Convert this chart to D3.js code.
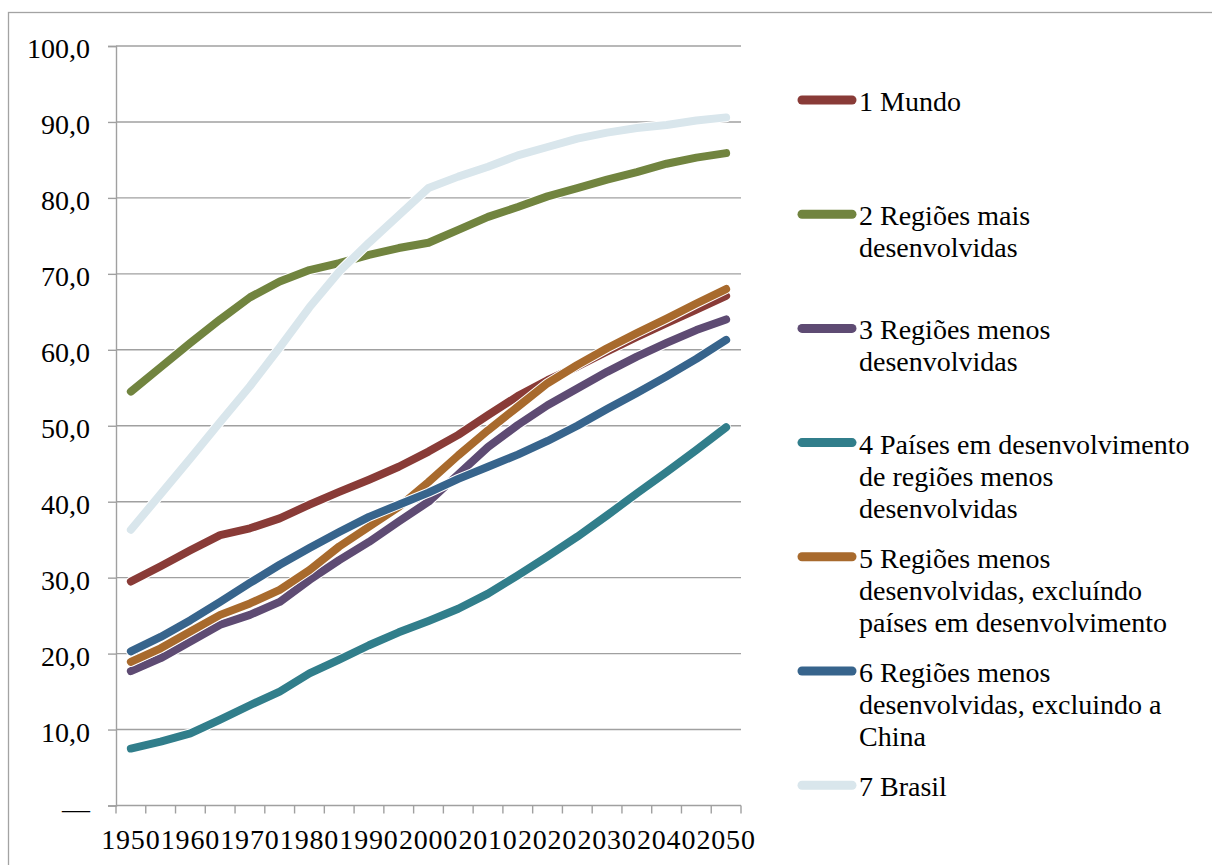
<!DOCTYPE html>
<html>
<head>
<meta charset="utf-8">
<script src="https://cdn.jsdelivr.net/npm/d3@7"></script>
<style>
  html, body { margin: 0; padding: 0; background: #fff; }
  svg { display: block; }
  text { font-family: "Liberation Serif", "Times New Roman", serif; fill: #000; }
</style>
</head>
<body>
<svg id="chart" width="1212" height="865"></svg>
<script>
// Years on the category axis (5-year steps)
const years = [1950, 1955, 1960, 1965, 1970, 1975, 1980, 1985, 1990, 1995, 2000,
               2005, 2010, 2015, 2020, 2025, 2030, 2035, 2040, 2045, 2050];
// Labels shown under the axis
const yearLabels = [1950, 1960, 1970, 1980, 1990, 2000, 2010, 2020, 2030, 2040, 2050];
// Value axis ticks
const yTicks = [0, 10, 20, 30, 40, 50, 60, 70, 80, 90, 100];

// Series (percent urban population)
const mundo          = [29.5, 31.5, 33.6, 35.6, 36.5, 37.8, 39.6, 41.3, 42.9, 44.6, 46.6, 48.8, 51.4, 53.9, 56.0, 57.8, 59.8, 61.7, 63.5, 65.3, 67.1];
const maisDesenv     = [54.5, 57.7, 60.9, 64.0, 66.9, 69.0, 70.5, 71.4, 72.5, 73.4, 74.1, 75.8, 77.5, 78.8, 80.2, 81.3, 82.4, 83.4, 84.5, 85.3, 85.9];
const menosDesenv    = [17.7, 19.4, 21.6, 23.8, 25.1, 26.8, 29.7, 32.3, 34.7, 37.4, 40.0, 43.6, 47.2, 50.1, 52.7, 54.9, 57.1, 59.1, 60.9, 62.6, 64.0];
const paisesEmDesenv = [7.5, 8.4, 9.5, 11.3, 13.2, 15.0, 17.4, 19.2, 21.1, 22.8, 24.3, 25.9, 27.9, 30.3, 32.8, 35.4, 38.2, 41.1, 43.9, 46.8, 49.8];
const menosExclPaises= [18.9, 20.7, 22.9, 25.1, 26.6, 28.4, 31.0, 34.1, 36.7, 39.3, 42.6, 46.1, 49.4, 52.5, 55.6, 58.0, 60.2, 62.2, 64.1, 66.1, 68.0];
const menosExclChina = [20.3, 22.2, 24.4, 26.8, 29.3, 31.7, 33.9, 36.0, 38.0, 39.6, 41.2, 43.0, 44.6, 46.2, 48.0, 50.0, 52.2, 54.3, 56.5, 58.8, 61.3];
const brasil         = [36.3, 41.0, 45.7, 50.5, 55.2, 60.3, 65.6, 70.3, 74.1, 77.7, 81.3, 82.8, 84.1, 85.6, 86.7, 87.8, 88.6, 89.2, 89.6, 90.2, 90.6];

const seriesNames = [
  ["1 Mundo"],
  ["2 Regiões mais", "desenvolvidas"],
  ["3 Regiões menos", "desenvolvidas"],
  ["4 Países em desenvolvimento", "de regiões menos", "desenvolvidas"],
  ["5 Regiões menos", "desenvolvidas, excluíndo", "países em desenvolvimento"],
  ["6 Regiões menos", "desenvolvidas, excluindo a", "China"],
  ["7 Brasil"]
];
const seriesColors = ["#893B37", "#71843F", "#5E4B73", "#317E8B", "#A86A2D", "#37648C", "#D9E6EC"];
const seriesValues = [mundo, maisDesenv, menosDesenv, paisesEmDesenv, menosExclPaises, menosExclChina, brasil];

const svg = d3.select("#chart");

// Outer chart frame
svg.append("rect")
  .attr("x", 8.5).attr("y", 12.5)
  .attr("width", 1250).attr("height", 900)
  .attr("fill", "none").attr("stroke", "#a3a3a3").attr("stroke-width", 1.3);

const plot = { left: 116, right: 741, top: 46, bottom: 805.5 };

const x = d3.scaleBand().domain(years).range([plot.left, plot.right]).paddingInner(0).paddingOuter(0);
const y = d3.scaleLinear().domain([0, 100]).range([plot.bottom, plot.top]);
const cx = d => x(d) + x.bandwidth() / 2;

const gridColor = "#a0a0a0";

// Horizontal gridlines
svg.append("g").selectAll("line").data(yTicks.filter(d => d > 0)).join("line")
  .attr("x1", plot.left).attr("x2", plot.right)
  .attr("y1", d => y(d)).attr("y2", d => y(d))
  .attr("stroke", gridColor).attr("stroke-width", 1.4);

// Value axis
const fmt = d => d === 0 ? "—" : d3.format(".1f")(d).replace(".", ",");
const yAxis = svg.append("g")
  .attr("transform", `translate(${plot.left},0)`)
  .call(d3.axisLeft(y).tickValues(yTicks).tickFormat(fmt).tickSize(8).tickPadding(18));
yAxis.select(".domain").attr("stroke", gridColor).attr("stroke-width", 1.4);
yAxis.selectAll(".tick line").attr("stroke", gridColor).attr("stroke-width", 1.4);
yAxis.selectAll(".tick text")
  .style("font-family", '"Liberation Serif", serif')
  .style("font-size", "28px").attr("fill", "#000").attr("dy", "0.42em");

// Category axis: line, boundary ticks, labels
const xAxisG = svg.append("g").attr("transform", `translate(0,${plot.bottom})`);
xAxisG.append("line").attr("x1", plot.left).attr("x2", plot.right)
  .attr("stroke", gridColor).attr("stroke-width", 1.4);
const boundaries = years.map(d => x(d)).concat([x(years[years.length - 1]) + x.bandwidth()]);
xAxisG.selectAll("line.tk").data(boundaries).join("line").attr("class", "tk")
  .attr("x1", d => d).attr("x2", d => d).attr("y1", 0).attr("y2", 8)
  .attr("stroke", gridColor).attr("stroke-width", 1.4);
xAxisG.selectAll("text").data(yearLabels).join("text")
  .attr("x", d => cx(d)).attr("y", 43)
  .attr("text-anchor", "middle")
  .style("font-size", "28px").style("letter-spacing", "0.8px")
  .text(d => d);

// Series lines, each with a thin white edge
const line = d3.line().x((d, i) => cx(years[i])).y(d => y(d));
const linesG = svg.append("g");
seriesValues.forEach((vals, i) => {
  linesG.append("path").datum(vals).attr("d", line)
    .attr("fill", "none").attr("stroke", "#fff").attr("stroke-width", 10)
    .attr("stroke-linecap", "round").attr("stroke-linejoin", "round");
  linesG.append("path").datum(vals).attr("d", line)
    .attr("fill", "none").attr("stroke", seriesColors[i]).attr("stroke-width", 8)
    .attr("stroke-linecap", "round").attr("stroke-linejoin", "round");
});

// Legend
const legend = svg.append("g");
seriesNames.forEach((lines, i) => {
  const ly = 100 + i * 114.2;
  legend.append("line")
    .attr("x1", 802).attr("x2", 852).attr("y1", ly).attr("y2", ly)
    .attr("stroke", seriesColors[i]).attr("stroke-width", 9).attr("stroke-linecap", "round");
  const t = legend.append("text").attr("x", 859).attr("y", ly + 11).style("font-size", "28px");
  lines.forEach((s, j) => {
    t.append("tspan").attr("x", 859).attr("dy", j === 0 ? 0 : 32).text(s);
  });
});
</script>
</body>
</html>
